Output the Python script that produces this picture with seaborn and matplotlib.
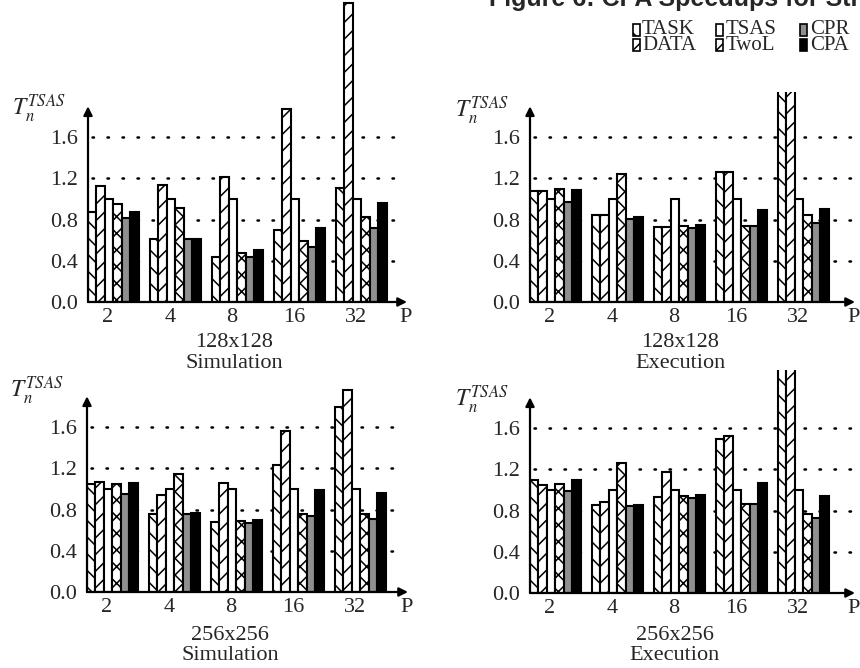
import matplotlib
matplotlib.use("Agg")
import matplotlib.pyplot as plt
from matplotlib.patches import Rectangle
import seaborn as sns
import pandas as pd

# ---------------- data ----------------
methods = ["TASK", "DATA", "TSAS", "TwoL", "CPR", "CPA"]
P_labels = ["2", "4", "8", "16", "32"]

sim128 = {
    "TASK": [0.87, 0.61, 0.44, 0.70, 1.11],
    "DATA": [1.13, 1.14, 1.21, 1.87, 2.90],
    "TSAS": [1.00, 1.00, 1.00, 1.00, 1.00],
    "TwoL": [0.95, 0.91, 0.48, 0.59, 0.83],
    "CPR":  [0.82, 0.61, 0.44, 0.53, 0.72],
    "CPA":  [0.87, 0.61, 0.50, 0.72, 0.96],
}
exe128 = {
    "TASK": [1.08, 0.84, 0.73, 1.26, 2.30],
    "DATA": [1.08, 0.84, 0.73, 1.26, 2.30],
    "TSAS": [1.00, 1.00, 1.00, 1.00, 1.00],
    "TwoL": [1.10, 1.24, 0.74, 0.74, 0.84],
    "CPR":  [0.97, 0.81, 0.72, 0.74, 0.77],
    "CPA":  [1.09, 0.83, 0.75, 0.89, 0.90],
}
sim256 = {
    "TASK": [1.05, 0.76, 0.68, 1.23, 1.80],
    "DATA": [1.07, 0.94, 1.06, 1.56, 1.96],
    "TSAS": [1.00, 1.00, 1.00, 1.00, 1.00],
    "TwoL": [1.05, 1.15, 0.69, 0.76, 0.76],
    "CPR":  [0.95, 0.76, 0.67, 0.74, 0.71],
    "CPA":  [1.06, 0.77, 0.70, 0.99, 0.96],
}
exe256 = {
    "TASK": [1.10, 0.85, 0.93, 1.50, 2.40],
    "DATA": [1.05, 0.88, 1.17, 1.52, 2.40],
    "TSAS": [1.00, 1.00, 1.00, 1.00, 1.00],
    "TwoL": [1.06, 1.26, 0.94, 0.86, 0.77],
    "CPR":  [0.99, 0.84, 0.92, 0.86, 0.73],
    "CPA":  [1.10, 0.85, 0.95, 1.07, 0.94],
}
y_ticks = [0.0, 0.4, 0.8, 1.2, 1.6]
y_tick_labels = ["0.0", "0.4", "0.8", "1.2", "1.6"]
title = "Figure 6: CPA Speedups for Strassen"
ylabel = r"$T_n^{TSAS}$"

# ---------------- style ----------------
sns.set_style("white")
plt.rcParams["font.family"] = ["Liberation Serif", "DejaVu Serif"]
plt.rcParams["mathtext.fontset"] = "stix"
plt.rcParams["hatch.linewidth"] = 1.1

face = {"TASK": "white", "DATA": "white", "TSAS": "white",
        "TwoL": "white", "CPR": "#8f8f8f", "CPA": "black"}
hatch = {"TASK": "\\\\", "DATA": "//", "TSAS": "", "TwoL": "xx",
         "CPR": "", "CPA": ""}

W, H = 860, 668
fig = plt.figure(figsize=(W / 100, H / 100), dpi=100)

UNIT = 62.0   # px per category step
XL = -0.41

panels = [
    # data, left, bottom, width, height (px), subtitle lines, label pos
    (sim128, 88, 302, 319, 302, ("128x128", "Simulation"), (234, 342, 364), (12, 108)),
    (exe128, 530, 302, 325, 210, ("128x128", "Execution"), (680, 342, 364), (455, 110)),
    (sim256, 87, 592, 321, 212, ("256x256", "Simulation"), (230, 634, 657), (10, 390)),
    (exe256, 530, 593, 325, 223, ("256x256", "Execution"), (675, 635, 656), (455, 399)),
]

for data, lpx, bpx, wpx, hpx, subs, subpos, labpos in panels:
    ax = fig.add_axes([lpx / W, (H - bpx) / H, wpx / W, hpx / H])
    rows = []
    for m in methods:
        for p, v in zip(P_labels, data[m]):
            rows.append({"P": p, "method": m, "value": v})
    df = pd.DataFrame(rows)
    sns.barplot(data=df, x="P", y="value", hue="method", order=P_labels,
                hue_order=methods, palette=face, saturation=1,
                edgecolor="black", linewidth=1.5, width=0.82, gap=0,
                legend=False, errorbar=None, ax=ax, zorder=2)
    for cont, m in zip(ax.containers, methods):
        for bar in cont:
            bar.set_hatch(hatch[m])
            bar.set_edgecolor("black")
    ytop_val = hpx / 103.0
    xr = XL + wpx / UNIT
    ax.set_xlim(XL, xr)
    ax.set_ylim(0, ytop_val)
    for s in ax.spines.values():
        s.set_visible(False)
    ax.set_xlabel("")
    ax.set_ylabel("")
    ax.hlines(y_ticks[1:], XL + 0.06, xr - 0.05, colors="black",
              linestyles=(0, (0.6, 5.4)), linewidth=1.8, zorder=0.5,
              capstyle="round")
    ax.annotate("", xy=(XL, 1.9), xytext=(XL, 0), xycoords="data",
                arrowprops=dict(arrowstyle="-|>", lw=1.6, color="black",
                                mutation_scale=13, shrinkA=0, shrinkB=0))
    ax.annotate("", xy=(xr, 0), xytext=(XL, 0), xycoords="data",
                arrowprops=dict(arrowstyle="-|>", lw=1.6, color="black",
                                mutation_scale=13, shrinkA=0, shrinkB=0))
    ax.set_xticks([i - 0.09 for i in range(len(P_labels))] + [xr - 0.02],
                  P_labels + ["P"])
    ax.set_yticks(y_ticks, y_tick_labels)
    ax.tick_params(axis="both", length=0, labelsize=16)
    ax.tick_params(axis="x", pad=4)
    ax.tick_params(axis="y", pad=7)
    fig.text(subpos[0] / W, 1 - (subpos[1] + subpos[2]) / 2 / H,
             subs[0] + "\n" + subs[1], ha="center", va="center",
             fontsize=16, linespacing=1.1)
    fig.text(labpos[0] / W, 1 - labpos[1] / H, ylabel, ha="left",
             va="center", fontsize=17)

# title (partially clipped at top, as in the reference)
fig.text(489 / W, 1 - 6 / H, title, ha="left", va="baseline",
         fontsize=18, fontweight="bold", family=["Liberation Sans", "DejaVu Sans"])

# legend (two rows, three columns)
leg_cols = [(633, 642), (716, 726), (800, 810)]
leg_rows = [30, 45]
leg_order = [["TASK", "DATA"], ["TSAS", "TwoL"], ["CPR", "CPA"]]
for c, col in enumerate(leg_order):
    px, tx = leg_cols[c]
    for r, m in enumerate(col):
        cy = leg_rows[r]
        rect = Rectangle((px / W, 1 - (cy + 5.5) / H), 7 / W, 11 / H,
                         transform=fig.transFigure, facecolor=face[m],
                         edgecolor="black", linewidth=1.2, hatch=hatch[m])
        fig.add_artist(rect)
    fig.text(tx / W, 1 - (leg_rows[0] + leg_rows[1]) / 2 / H,
             col[0] + "\n" + col[1], ha="left", va="center",
             fontsize=15, linespacing=0.78)

fig.savefig("out.png", dpi=100)
